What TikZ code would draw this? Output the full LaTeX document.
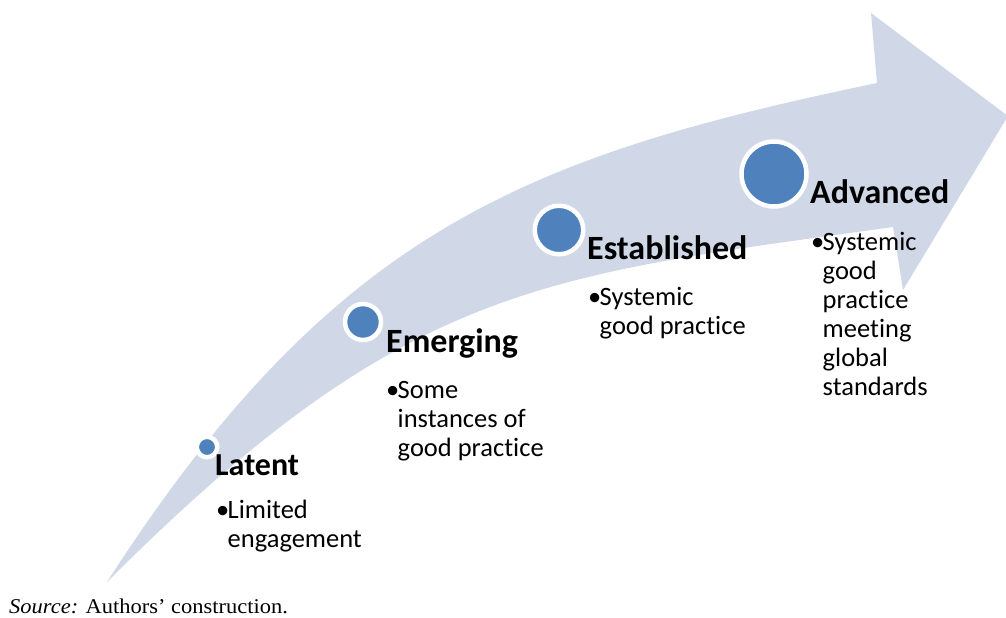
\documentclass[tikz,border=0pt]{standalone}
\usepackage{fontspec}
\setmainfont[Ligatures=NoCommon]{Carlito}
\newfontfamily\srcfont{Liberation Serif}
\definecolor{band}{HTML}{D0D8E8}
\definecolor{dot}{HTML}{4F81BD}
\tikzset{
  stage/.style={circle, fill=dot, draw=white, line width=4.5pt, inner sep=0pt},
  title/.style={anchor=base west, inner sep=0pt, font=\fontsize{34}{40}\selectfont\bfseries},
  body/.style={anchor=base west, inner sep=0pt, font=\fontsize{26.5}{29}\selectfont},
}
\newcommand{\bul}[1]{\makebox[11.5pt][l]{•}\begin{tabular}[t]{@{}l@{}}#1\end{tabular}}
\begin{document}
\begin{tikzpicture}[x=1pt,y=-1pt]
\useasboundingbox (0,0) rectangle (1006,618);
\begin{scope}
\clip (0,0) rectangle (1006,618);
\fill[band] (107,582) .. controls (334,229) and (527,156) .. (877,83)
  -- (871,13) -- (1008,116) -- (903,290) -- (893,227)
  .. controls (543,276) and (407,282) .. (107,582) -- cycle;
\end{scope}
\node[stage, minimum size=20.5pt] (c1) at (207,447) {};
\node[stage, minimum size=36pt] (c2) at (363,322) {};
\node[stage, minimum size=48.5pt] (c3) at (559,230) {};
\node[stage, minimum size=65pt] (c4) at (774,174) {};
\node[title, font=\fontsize{32}{38}\selectfont\bfseries] (t1) at (215,475) {Latent};
\node[title] (t2) at (386,352) {Emerging};
\node[title] (t3) at (587,259) {Established};
\node[title] (t4) at (810,203) {Advanced};
\node[body] (b1) at (216,518) {\bul{Limited\\engagement}};
\node[body] (b2) at (386,398) {\bul{Some\\instances of\\good practice}};
\node[body] (b3) at (588,305) {\bul{Systemic\\good practice}};
\node[body] (b4) at (811,250) {\bul{Systemic\\good\\practice\\meeting\\global\\standards}};
\node[anchor=base west, inner sep=0pt, xscale=1.07, font=\srcfont\fontsize{21}{25}\selectfont] (src) at (9,613) {\textit{Source:} Authors’ construction.};
\end{tikzpicture}
\end{document}
